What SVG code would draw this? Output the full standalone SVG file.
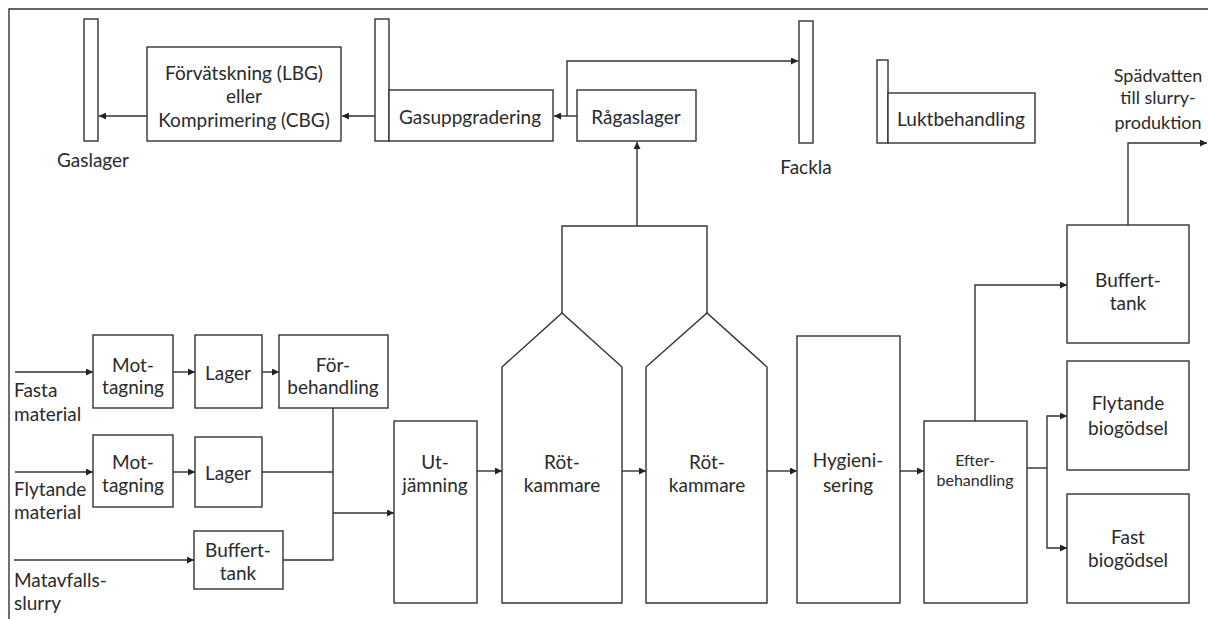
<svg xmlns="http://www.w3.org/2000/svg" width="1208" height="619" viewBox="0 0 1208 619">
<defs>
<marker id="ah" viewBox="0 0 10 10" refX="10" refY="5" markerWidth="7" markerHeight="7" markerUnits="userSpaceOnUse" orient="auto"><path d="M0,0 L10,5 L0,10 z" fill="#222"/></marker>
<style>
.b{fill:#fff;stroke:#333;stroke-width:1.4}
.c{fill:none;stroke:#333;stroke-width:1.4}
.a{marker-end:url(#ah)}
text{font-family:Lato,"Open Sans","Liberation Sans",sans-serif;font-size:19px;fill:#2a2a2a}
.m{text-anchor:middle}
.s{font-size:16px}
.e{font-size:18px}
</style>
</defs>
<rect x="0" y="0" width="1208" height="619" fill="#fff"/>
<path class="c" d="M9,640 L9,9 L1220,9" stroke="#555" stroke-width="1.6"/>

<g id="connectors">
<path class="c a" d="M375,116 L342,116"/>
<path class="c a" d="M147,116 L99,116"/>
<path class="c a" d="M577,116 L554,116"/>
<path class="c a" d="M567,116 L567,61 L798,61"/>
<path class="c a" d="M637,226 L637,142"/>
<path class="c" d="M562,313 L562,226 L707,226 L707,313"/>
<path class="c a" d="M15,372 L93,372"/>
<path class="c a" d="M173,372 L195,372"/>
<path class="c a" d="M262,372 L279,372"/>
<path class="c a" d="M15,472 L93,472"/>
<path class="c a" d="M173,472 L195,472"/>
<path class="c a" d="M14,560 L194,560"/>
<path class="c" d="M333,408 L333,560 L283,560"/>
<path class="c" d="M262,472 L333,472"/>
<path class="c a" d="M333,513 L394,513" stroke-width="2"/>
<path class="c a" d="M477,471 L502,471"/>
<path class="c a" d="M622,471 L646,471"/>
<path class="c a" d="M767,471 L797,471"/>
<path class="c a" d="M900,471 L924,471"/>
<path class="c a" d="M975,421 L975,285 L1067,285"/>
<path class="c" d="M1027,468 L1047,468"/>
<path class="c a" d="M1047,468 L1047,416 L1067,416"/>
<path class="c a" d="M1047,468 L1047,548 L1067,548"/>
<path class="c a" d="M1128,225 L1128,143 L1207,143"/>
</g>

<g id="gaslager">
<rect class="b" x="84" y="19" width="14" height="122"/>
<text x="93" y="167" class="m">Gaslager</text>
</g>
<g id="forvatskning">
<rect class="b" x="147" y="47" width="194" height="94"/>
<text x="244" y="80" class="m">Förvätskning (LBG)</text>
<text x="244" y="103" class="m">eller</text>
<text x="244" y="127" class="m">Komprimering (CBG)</text>
</g>
<g id="gasuppgradering">
<rect class="b" x="375" y="19" width="14" height="122"/>
<rect class="b" x="389" y="90" width="164" height="51"/>
<text x="470" y="124" class="m">Gasuppgradering</text>
</g>
<g id="ragaslager">
<rect class="b" x="577" y="90" width="119" height="51"/>
<text x="636" y="124" class="m">Rågaslager</text>
</g>
<g id="fackla">
<rect class="b" x="799" y="21" width="14" height="122"/>
<text x="806" y="174" class="m">Fackla</text>
</g>
<g id="luktbehandling">
<rect class="b" x="877" y="60" width="11" height="83"/>
<rect class="b" x="888" y="93" width="147" height="50"/>
<text x="961" y="126" class="m">Luktbehandling</text>
</g>
<g id="spadvatten">
<text x="1158" y="82" class="m e">Spädvatten</text>
<text x="1158" y="104" class="m e">till slurry-</text>
<text x="1158" y="129" class="m e">produktion</text>
</g>

<g id="inputs">
<text x="14" y="397">Fasta</text>
<text x="14" y="421">material</text>
<text x="14" y="496">Flytande</text>
<text x="14" y="519">material</text>
<text x="14" y="587">Matavfalls-</text>
<text x="14" y="610">slurry</text>
</g>

<g id="mottagning1">
<rect class="b" x="93" y="335" width="80" height="73"/>
<text x="133" y="372" class="m">Mot-</text>
<text x="133" y="394" class="m">tagning</text>
</g>
<g id="lager1">
<rect class="b" x="195" y="335" width="67" height="73"/>
<text x="228" y="380" class="m">Lager</text>
</g>
<g id="forbehandling">
<rect class="b" x="279" y="335" width="109" height="73"/>
<text x="333" y="372" class="m">För-</text>
<text x="333" y="394" class="m">behandling</text>
</g>
<g id="mottagning2">
<rect class="b" x="93" y="435" width="80" height="72"/>
<text x="133" y="469" class="m">Mot-</text>
<text x="133" y="492" class="m">tagning</text>
</g>
<g id="lager2">
<rect class="b" x="195" y="437" width="67" height="70"/>
<text x="228" y="480" class="m">Lager</text>
</g>
<g id="buffert1">
<rect class="b" x="194" y="531" width="89" height="58"/>
<text x="238" y="557" class="m">Buffert-</text>
<text x="238" y="580" class="m">tank</text>
</g>
<g id="utjamning">
<rect class="b" x="394" y="421" width="83" height="182"/>
<text x="435" y="469" class="m">Ut-</text>
<text x="435" y="492" class="m">jämning</text>
</g>
<g id="rotkammare1">
<path class="b" d="M502,603 L502,367 L562,313 L622,367 L622,603 Z"/>
<text x="562" y="469" class="m">Röt-</text>
<text x="562" y="492" class="m">kammare</text>
</g>
<g id="rotkammare2">
<path class="b" d="M646,603 L646,367 L707,313 L767,367 L767,603 Z"/>
<text x="707" y="469" class="m">Röt-</text>
<text x="707" y="492" class="m">kammare</text>
</g>
<g id="hygienisering">
<rect class="b" x="797" y="336" width="103" height="267"/>
<text x="848" y="467" class="m">Hygieni-</text>
<text x="848" y="492" class="m">sering</text>
</g>
<g id="efterbehandling">
<rect class="b" x="924" y="421" width="103" height="182"/>
<text x="975" y="466" class="m s">Efter-</text>
<text x="975" y="486" class="m s">behandling</text>
</g>
<g id="buffert2">
<rect class="b" x="1067" y="225" width="122" height="118"/>
<text x="1128" y="287" class="m">Buffert-</text>
<text x="1128" y="310" class="m">tank</text>
</g>
<g id="flytande">
<rect class="b" x="1067" y="361" width="122" height="109"/>
<text x="1128" y="410" class="m">Flytande</text>
<text x="1128" y="435" class="m">biogödsel</text>
</g>
<g id="fast">
<rect class="b" x="1067" y="494" width="122" height="109"/>
<text x="1128" y="544" class="m">Fast</text>
<text x="1128" y="567" class="m">biogödsel</text>
</g>
</svg>
